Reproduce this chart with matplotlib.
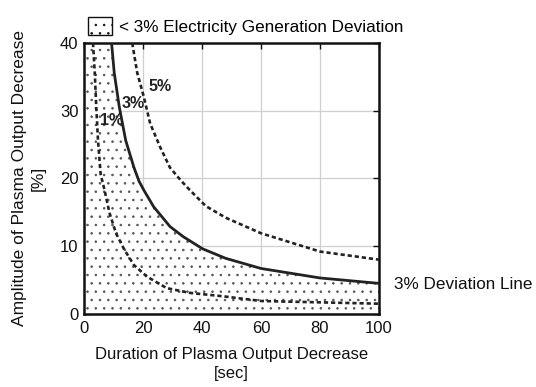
import matplotlib
matplotlib.use("Agg")
import matplotlib.pyplot as plt
from matplotlib.patches import Patch

plt.rcParams['font.family'] = ['Liberation Sans', 'DejaVu Sans']
plt.rcParams['hatch.color'] = '#555555'
plt.rcParams['hatch.linewidth'] = 0.6

# Deviation lines: duration [sec] vs amplitude [%]
x_1pct = [3.0, 3.6, 4.1, 4.7, 5.6, 6.9, 8.6, 10.8, 13.6, 16.9, 21.3, 28, 35.8, 47, 60, 80, 100]
y_1pct = [40, 35.6, 30.6, 25.6, 20.6, 18.3, 14.9, 11.9, 9.5, 7.2, 5.5, 3.8, 3.1, 2.6, 1.9, 1.7, 1.5]

x_3pct = [9.3, 10.2, 11.9, 14.1, 16.9, 18.6, 20.2, 23.6, 29.1, 33.6, 40.2, 48, 60, 80, 100]
y_3pct = [40, 35.6, 30.6, 25.6, 21.6, 19.6, 18.3, 15.8, 12.9, 11.4, 9.6, 8.2, 6.7, 5.3, 4.5]

x_5pct = [16.3, 18, 20.2, 22.4, 25.8, 29.1, 33, 35.8, 41.3, 48, 60, 80, 100]
y_5pct = [40, 35.6, 32.1, 28.1, 24.6, 21.6, 19.6, 18.3, 15.9, 14.2, 11.9, 9.2, 8.0]

xticks = [0, 20, 40, 60, 80, 100]
yticks = [0, 10, 20, 30, 40]

fig = plt.figure(figsize=(5.36, 3.87), dpi=100)
ax = fig.add_axes([0.157, 0.189, 0.550, 0.700])

# shaded region below the 3% line
ax.fill_between([0] + x_3pct, [40] + y_3pct, 0, facecolor='white',
                edgecolor='#555555', hatch='..', linewidth=0, zorder=1)

dash = (0, (1.6, 1.1))
ax.plot(x_1pct, y_1pct, color='#222222', lw=1.9, ls=dash, zorder=3)
ax.plot(x_3pct, y_3pct, color='#222222', lw=2.0, ls='-', zorder=3)
ax.plot(x_5pct, y_5pct, color='#222222', lw=1.9, ls=dash, zorder=3)

ax.text(9.2, 28.5, '1%', fontsize=11.5, fontweight='bold', color='#222222', ha='center', va='center', zorder=4)
ax.text(16.6, 31.1, '3%', fontsize=11.5, fontweight='bold', color='#222222', ha='center', va='center', zorder=4)
ax.text(25.8, 33.5, '5%', fontsize=11.5, fontweight='bold', color='#222222', ha='center', va='center', zorder=4)

ax.set_xlim(0, 100)
ax.set_ylim(0, 40)
ax.set_xticks(xticks)
ax.set_yticks(yticks)
ax.grid(True, color='#cfcfcf', lw=0.9)
ax.set_axisbelow(True)
ax.tick_params(direction='in', length=4, width=1, top=True, right=True,
               labelsize=12, colors='#111111')
ax.tick_params(axis='x', pad=5)
ax.tick_params(axis='y', pad=4)
for s in ax.spines.values():
    s.set_linewidth(1.8)
    s.set_color('#111111')

ax.set_xlabel('Duration of Plasma Output Decrease\n[sec]', fontsize=12, color='#111111',
              labelpad=8, linespacing=1.35)
ax.set_ylabel('Amplitude of Plasma Output Decrease\n[%]', fontsize=12.5, color='#111111',
              labelpad=10, linespacing=1.3)

ax.text(105, 4.4, '3% Deviation Line', fontsize=12.3,
        color='#111111', ha='left', va='center', clip_on=False)

handle = Patch(facecolor='white', edgecolor='#111111', hatch='..', linewidth=1.0)
ax.legend(handles=[handle], labels=['< 3% Electricity Generation Deviation'],
          loc='lower left', bbox_to_anchor=(-0.005, 1.01), frameon=False,
          fontsize=12.3, handlelength=1.4, handleheight=1.3, handletextpad=0.4,
          borderaxespad=0.1, borderpad=0.2)

fig.savefig('out.png', dpi=100)
